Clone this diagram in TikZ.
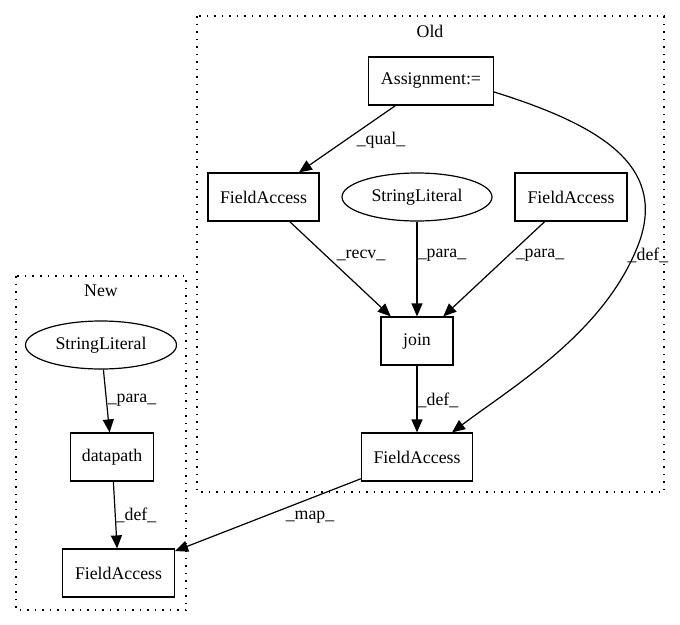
\documentclass[tikz,border=0pt]{standalone}
\usepackage{fontspec}
\setmainfont{Liberation Serif}
\usetikzlibrary{arrows.meta,shapes.geometric}
\begin{document}
\begin{tikzpicture}[x=1pt,y=-1pt,
  every node/.style={font=\fontsize{17.8}{20}\selectfont},
  box/.style={draw,line width=1.2pt,rectangle,inner sep=0pt,minimum height=48pt},
  oval/.style={draw,line width=1.2pt,ellipse,inner sep=0pt,minimum height=48pt,minimum width=150pt},
  cluster/.style={draw,line width=1.2pt,dash pattern=on 1.5pt off 6pt},
  flow/.style={draw,line width=1.2pt,-{Triangle[length=13pt,width=11pt]}},
  elabel/.style={inner sep=0pt}]
\useasboundingbox (0,0) rectangle (680,624);
\fill[white] (0,0) rectangle (680,624);

% clusters
\draw[cluster] (197,16) rectangle (664,492);
\draw[cluster] (16,276) rectangle (186,610);
\node (oldlbl) at (430,31) {Old};
\node (newlbl) at (101,291) {New};

% nodes of the old version
\node[box,minimum width=125pt] (asg) at (431,81) {Assignment:=};
\node[box,minimum width=111pt] (fa1) at (263.5,197) {FieldAccess};
\node[oval] (sl1) at (417,197) {StringLiteral};
\node[box,minimum width=112pt] (fa2) at (571,197) {FieldAccess};
\node[box,minimum width=72pt] (join) at (417,341) {join};
\node[box,minimum width=111pt] (fa3) at (417,457) {FieldAccess};

% nodes of the new version
\node[oval,minimum width=151pt] (sl2) at (101,345) {StringLiteral};
\node[box,minimum width=83pt] (dp) at (112,457) {datapath};
\node[box,minimum width=112pt] (fa4) at (118.5,573) {FieldAccess};

% edges
\draw[flow] (asg) -- (fa1);
\draw[flow] (fa1) -- (join);
\draw[flow] (sl1) -- (join);
\draw[flow] (fa2) -- (join);
\draw[flow] (join) -- (fa3);
\draw[flow] ([yshift=-11pt]asg.east) .. controls (600,125) and (665,165) .. (640,240)
  .. controls (608,330) and (515,385) .. ([xshift=35pt]fa3.north);
\draw[flow] (fa3) -- (fa4);
\draw[flow] (sl2) -- (dp);
\draw[flow] (dp) -- (fa4);

% edge labels
\node[elabel] (lqual) at (381,140) {\_qual\_};
\node[elabel] (lrecv) at (361,255) {\_recv\_};
\node[elabel] (lpara1) at (442,255) {\_para\_};
\node[elabel] (lpara2) at (540,255) {\_para\_};
\node[elabel] (ldef1) at (648,255) {\_def\_};
\node[elabel] (ldef2) at (438,400) {\_def\_};
\node[elabel] (lmap) at (310,517) {\_map\_};
\node[elabel] (lpara3) at (132,400) {\_para\_};
\node[elabel] (ldef3) at (136,515) {\_def\_};
\end{tikzpicture}
\end{document}
